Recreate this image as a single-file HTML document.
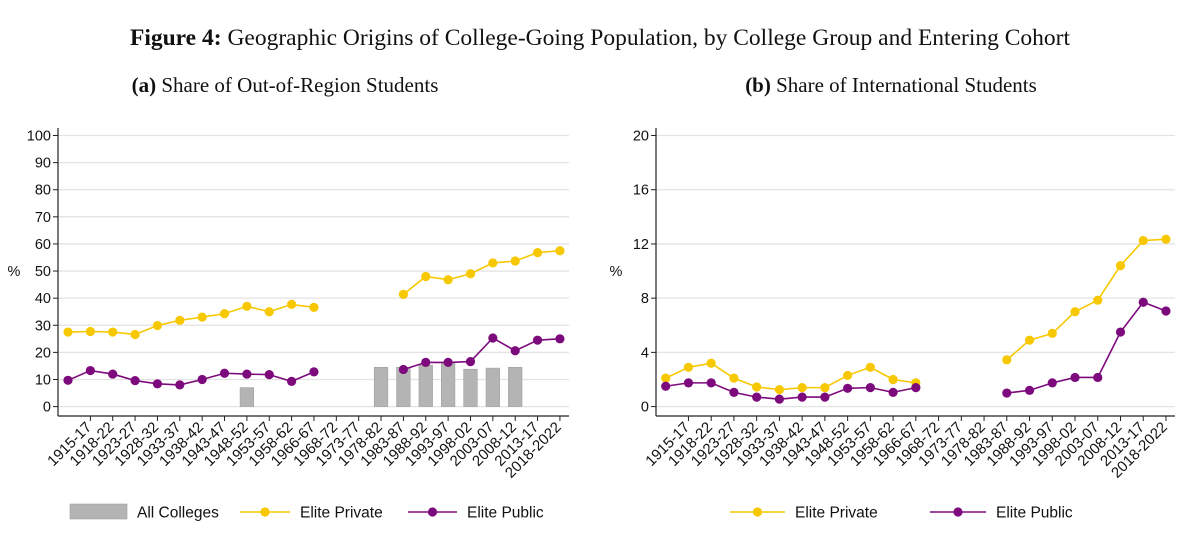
<!DOCTYPE html>
<html><head><meta charset="utf-8">
<style>
body{margin:0;background:#fff;}
svg text{font-family:"Liberation Sans",Arial,sans-serif;fill:#111;}
.serif{font-family:"Liberation Serif","Times New Roman",serif;}
</style></head>
<body>
<svg id="fig" width="1200" height="536" viewBox="0 0 1200 536" xmlns="http://www.w3.org/2000/svg">
<text class="serif" x="600" y="45" text-anchor="middle" font-size="23.5"><tspan font-weight="bold">Figure 4:</tspan> Geographic Origins of College-Going Population, by College Group and Entering Cohort</text>
<text class="serif" x="285" y="92" text-anchor="middle" font-size="21"><tspan font-weight="bold">(a)</tspan> Share of Out-of-Region Students</text>
<text class="serif" x="891" y="92" text-anchor="middle" font-size="21"><tspan font-weight="bold">(b)</tspan> Share of International Students</text>
<g id="pa"></g>
<g id="pb"></g>
</svg>
<script>
const categories = ["1915-17","1918-22","1923-27","1928-32","1933-37","1938-42","1943-47","1948-52","1953-57","1958-62","1966-67","1968-72","1973-77","1978-82","1983-87","1988-92","1993-97","1998-02","2003-07","2008-12","2013-17","2018-2022"];
// panel a (23 positions, null = missing)
const aAll = [null,null,null,null,null,null,null,null,7,null,null,null,null,null,14.5,14.5,15.3,16,13.8,14.2,14.5,null,null];
const aPrivate = [27.5,27.7,27.5,26.6,29.9,31.8,33,34.3,37,35,37.7,36.6,null,null,null,41.4,48,46.8,49,53,53.7,56.8,57.5];
const aPublic = [9.7,13.3,12,9.6,8.4,8,10,12.3,12,11.8,9.3,12.8,null,null,null,13.7,16.3,16.3,16.6,25.3,20.6,24.5,25];
const aTicks = [0,10,20,30,40,50,60,70,80,90,100];
// panel b
const bPrivate = [2.1,2.9,3.2,2.1,1.45,1.25,1.4,1.4,2.3,2.9,2.0,1.75,null,null,null,3.45,4.9,5.4,7.0,7.85,10.4,12.25,12.35];
const bPublic = [1.5,1.75,1.75,1.05,0.7,0.55,0.7,0.7,1.35,1.4,1.05,1.4,null,null,null,1.0,1.2,1.75,2.15,2.15,5.5,7.7,7.05];
const bTicks = [0,4,8,12,16,20];

const NS="http://www.w3.org/2000/svg";
const YEL="#f7c800", PUR="#7d0a7d";
function mk(parent,tag,attrs){const e=document.createElementNS(NS,tag);for(const k in attrs)e.setAttribute(k,attrs[k]);parent.appendChild(e);return e;}

function panel(g,cfg){
  const x=i=>cfg.x0+i*cfg.dx;
  const y=v=>cfg.yBase-(v/cfg.ymax)*(cfg.yBase-cfg.yTop);
  cfg.ticks.forEach(t=>{
    const gl=mk(g,'line',{x1:cfg.ax,x2:cfg.gx2,y1:y(t),y2:y(t),stroke:'#e3e3e3','stroke-width':1.3});
    
    
    mk(g,'line',{x1:cfg.ax-5,x2:cfg.ax,y1:y(t),y2:y(t),stroke:'#222','stroke-width':1});
    const tl=mk(g,'text',{x:cfg.ax-7,y:y(t)+5,'text-anchor':'end','font-size':14.5});
    tl.textContent=t;
    
    
  });
  const ya=mk(g,'line',{x1:cfg.ax,x2:cfg.ax,y1:128,y2:cfg.axY,stroke:'#222','stroke-width':1.2});
  
  
  const xa=mk(g,'line',{x1:cfg.ax,x2:cfg.gx2,y1:cfg.axY,y2:cfg.axY,stroke:'#222','stroke-width':1.2});
  
  
  const yt=mk(g,'text',{x:cfg.pctX,y:276,'text-anchor':'middle','font-size':14.5});
  yt.textContent='%';
  
  
  categories.forEach((c,j)=>{
    const xi=x(j+1);
    mk(g,'line',{x1:xi,x2:xi,y1:cfg.axY,y2:cfg.axY+5,stroke:'#222','stroke-width':1});
    const t=mk(g,'text',{x:xi+2,y:cfg.axY+12,'text-anchor':'end','font-size':15,transform:`rotate(-45 ${xi+2} ${cfg.axY+12})`});
    t.textContent=c;
    
    
  });
  if(cfg.bars){cfg.bars.forEach((v,i)=>{if(v==null)return;
    const r=mk(g,'rect',{x:x(i)-6.8,y:y(v),width:13.6,height:y(0)-y(v),fill:'#b4b4b4',stroke:'#a0a0a0','stroke-width':0.6});
    
    });}
  cfg.series.forEach(s=>{
    let d='',pen=false;
    s.vals.forEach((v,i)=>{if(v==null){pen=false;return;}d+=(pen?'L':'M')+x(i)+' '+y(v)+' ';pen=true;});
    const p=mk(g,'path',{d:d,fill:'none',stroke:s.col,'stroke-width':1.6});
    
    
    s.vals.forEach((v,i)=>{if(v==null)return;
      const c=mk(g,'circle',{cx:x(i),cy:y(v),r:4.6,fill:s.col});
      
      });
  });
}
panel(document.getElementById('pa'),{x0:68,dx:22.36,ax:58,gx2:569,axY:416,yBase:406.6,yTop:135.5,ymax:100,ticks:aTicks,pctX:14,bars:aAll,
  series:[{vals:aPrivate,col:YEL,name:'elite-private'},{vals:aPublic,col:PUR,name:'elite-public'}]});
panel(document.getElementById('pb'),{x0:665.7,dx:22.74,ax:656,gx2:1175,axY:416,yBase:406.6,yTop:135.5,ymax:20,ticks:bTicks,pctX:616,
  series:[{vals:bPrivate,col:YEL,name:'elite-private'},{vals:bPublic,col:PUR,name:'elite-public'}]});

const svg=document.getElementById('fig');
function legLine(x1,x2,col,tx,label,name){
  const g=mk(svg,'g',{});
  
  
  mk(g,'line',{x1:x1,x2:x2,y1:512,y2:512,stroke:col,'stroke-width':1.6});
  mk(g,'circle',{cx:(x1+x2)/2,cy:512,r:4.6,fill:col});
  const t=mk(g,'text',{x:tx,y:517.5,'font-size':15.5});t.textContent=label;
}
const lg=mk(svg,'g',{});


mk(lg,'rect',{x:70,y:504,width:57,height:15,fill:'#b4b4b4',stroke:'#a0a0a0','stroke-width':0.6});
const lt=mk(lg,'text',{x:137,y:517.5,'font-size':15.5});lt.textContent='All Colleges';
legLine(240,290,YEL,300,'Elite Private','legend-elite-private-a');
legLine(408,457,PUR,467,'Elite Public','legend-elite-public-a');
legLine(730,785,YEL,795,'Elite Private','legend-elite-private-b');
legLine(930,986,PUR,996,'Elite Public','legend-elite-public-b');
</script>
</body></html>
